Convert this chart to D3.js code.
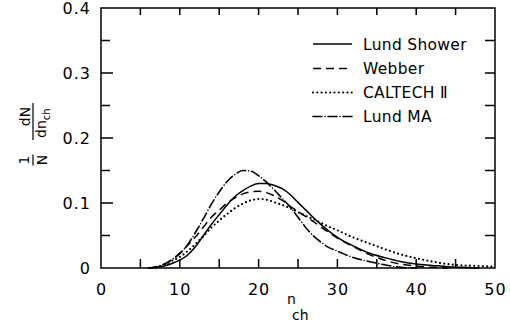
<!DOCTYPE html>
<html>
<head>
<meta charset="utf-8">
<script src="https://cdn.jsdelivr.net/npm/d3@7"></script>
<style>
  html, body { margin: 0; padding: 0; background: #fff; }
  svg { display: block; }
  text { font-family: "DejaVu Sans", "Liberation Sans", sans-serif; fill: #000; }
</style>
</head>
<body>
<svg id="chart" width="510" height="327"></svg>
<script>
// ---- Data ----
const seriesNames = ["Lund Shower", "Webber", "CALTECH \u2161", "Lund MA"];

const lundShowerN = [6, 7, 8, 9, 10, 11, 12, 13, 14, 15, 16, 17, 18, 19, 20, 21, 22, 23, 24, 25, 26, 27, 28, 29, 30, 32, 34, 36, 38, 40, 42, 44, 46, 48];
const lundShowerV = [0, 0.001, 0.003, 0.007, 0.012, 0.020, 0.033, 0.050, 0.067, 0.082, 0.097, 0.110, 0.119, 0.126, 0.130, 0.130, 0.127, 0.122, 0.113, 0.101, 0.089, 0.077, 0.066, 0.056, 0.047, 0.034, 0.023, 0.016, 0.010, 0.006, 0.004, 0.002, 0.001, 0];

const webberN = [6.5, 7, 8, 9, 10, 11, 12, 13, 14, 15, 16, 17, 18, 19, 20, 21, 22, 23, 24, 25, 26, 27, 28, 29, 30, 32, 34, 36, 38, 40, 42, 44];
const webberV = [0, 0.001, 0.005, 0.013, 0.023, 0.035, 0.048, 0.063, 0.078, 0.089, 0.100, 0.108, 0.114, 0.117, 0.118, 0.116, 0.111, 0.104, 0.095, 0.087, 0.079, 0.071, 0.062, 0.054, 0.046, 0.033, 0.021, 0.012, 0.006, 0.003, 0.001, 0];

const caltechN = [6.5, 7, 8, 9, 10, 11, 12, 13, 14, 15, 16, 17, 18, 19, 20, 21, 22, 23, 24, 25, 26, 27, 28, 29, 30, 32, 34, 36, 38, 40, 42, 44, 46, 48, 50];
const caltechV = [0, 0.001, 0.005, 0.011, 0.017, 0.026, 0.037, 0.049, 0.062, 0.073, 0.083, 0.092, 0.099, 0.104, 0.106, 0.105, 0.101, 0.097, 0.092, 0.086, 0.080, 0.075, 0.069, 0.063, 0.058, 0.047, 0.038, 0.029, 0.021, 0.015, 0.010, 0.006, 0.004, 0.003, 0.002];

const lundMAN = [6, 7, 8, 9, 10, 11, 12, 13, 14, 15, 16, 17, 18, 19, 20, 21, 22, 23, 24, 25, 26, 27, 28, 29, 30, 32, 34, 36, 38, 40];
const lundMAV = [0, 0.002, 0.006, 0.013, 0.022, 0.036, 0.055, 0.076, 0.098, 0.117, 0.133, 0.144, 0.150, 0.149, 0.142, 0.132, 0.120, 0.107, 0.094, 0.078, 0.062, 0.049, 0.039, 0.031, 0.026, 0.016, 0.010, 0.005, 0.001, 0];

const xTickValues = [5, 10, 15, 20, 25, 30, 35, 40, 45];
const xLabelValues = [0, 10, 20, 30, 40, 50];
const xTickLabels = ["0", "10", "20", "30", "40", "50"];
const yMajorTicks = [0.1, 0.2, 0.3];
const yLabelValues = [0, 0.1, 0.2, 0.3, 0.4];
const yTickLabels = ["0", "0.1", "0.2", "0.3", "0.4"];
const yMinorTicks = [0.05, 0.15, 0.25, 0.35];

// ---- Layout ----
const svg = d3.select("#chart");
const plotL = 101, plotR = 495, plotT = 8, plotB = 268;

const x = d3.scaleLinear().domain([0, 50]).range([plotL, plotR]);
const y = d3.scaleLinear().domain([0, 0.4]).range([plotB, plotT]);

const tickFont = 16;

// All tick marks as one path, built from the scales
const tp = d3.path();
xTickValues.forEach(d => { tp.moveTo(x(d), plotB); tp.lineTo(x(d), plotB - 9); });
xTickValues.forEach(d => { tp.moveTo(x(d), plotT); tp.lineTo(x(d), plotT + 7); });
yMajorTicks.forEach(d => { tp.moveTo(plotL, y(d)); tp.lineTo(plotL + 12, y(d)); });
yMinorTicks.forEach(d => { tp.moveTo(plotL, y(d)); tp.lineTo(plotL + 9, y(d)); });
yMajorTicks.concat(yMinorTicks).forEach(d => { tp.moveTo(plotR, y(d)); tp.lineTo(plotR - 10, y(d)); });
svg.append("path")
  .attr("d", tp.toString())
  .attr("fill", "none")
  .attr("stroke", "#000")
  .attr("stroke-width", 1.5);

// tick labels
svg.selectAll("text.xl").data(xLabelValues).join("text").attr("class", "xl")
  .attr("x", d => x(d) + 0.5).attr("y", 295)
  .attr("text-anchor", "middle")
  .attr("font-size", tickFont).attr("letter-spacing", "1px")
  .text((d, i) => xTickLabels[i]);
svg.selectAll("text.yl").data(yLabelValues).join("text").attr("class", "yl")
  .attr("x", 91).attr("y", d => y(d) + 5.8)
  .attr("text-anchor", "end")
  .attr("font-size", tickFont).attr("letter-spacing", "1px")
  .text((d, i) => yTickLabels[i]);

// frame
svg.append("rect")
  .attr("x", plotL).attr("y", plotT)
  .attr("width", plotR - plotL).attr("height", plotB - plotT)
  .attr("fill", "none").attr("stroke", "#000").attr("stroke-width", 1.5);

// ---- Curves ----
const styles = [
  { dash: null, width: 1.5, cap: "butt" },
  { dash: "8,5", width: 1.5, cap: "butt" },
  { dash: "0,4.3", width: 2.2, cap: "round" },
  { dash: "9,3,0,3", width: 1.6, cap: "round" }
];
const seriesN = [lundShowerN, webberN, caltechN, lundMAN];
const seriesV = [lundShowerV, webberV, caltechV, lundMAV];

const line = d3.line()
  .x(d => x(d[0]))
  .y(d => y(d[1]))
  .curve(d3.curveMonotoneX);

seriesN.forEach((ns, i) => {
  const pts = ns.map((n, j) => [n, seriesV[i][j]]);
  const p = svg.append("path")
    .datum(pts)
    .attr("d", line)
    .attr("fill", "none")
    .attr("stroke", "#000")
    .attr("stroke-width", styles[i].width)
    .attr("stroke-linecap", styles[i].cap);
  if (styles[i].dash) p.attr("stroke-dasharray", styles[i].dash);
});

// ---- Legend ----
const legendY = [44, 68.5, 92.5, 116.5];
seriesNames.forEach((name, i) => {
  const l = svg.append("line")
    .attr("x1", 313).attr("x2", 352)
    .attr("y1", legendY[i]).attr("y2", legendY[i])
    .attr("stroke", "#000")
    .attr("stroke-width", styles[i].width)
    .attr("stroke-linecap", styles[i].cap);
  if (styles[i].dash) l.attr("stroke-dasharray", styles[i].dash);
  svg.append("text")
    .attr("x", 363).attr("y", legendY[i] + 5.8)
    .attr("font-size", 15.5)
    .attr("letter-spacing", "0.3px")
    .text(name);
});

// ---- Axis titles ----
const xt = svg.append("text").attr("x", 287).attr("y", 303.5).attr("font-size", 14);
xt.append("tspan").text("n");
xt.append("tspan").attr("x", 292).attr("y", 320).attr("font-size", 14).text("ch");

// y title: rotated fractions (1/N)(dN/dn_ch)
function rot(sel, px, py) {
  return sel.attr("transform", `translate(${px},${py}) rotate(-90)`);
}
rot(svg.append("text"), 28.5, 160).attr("text-anchor", "middle").attr("font-size", 14).text("1");
svg.append("line").attr("x1", 33).attr("x2", 33).attr("y1", 154.5).attr("y2", 165.5)
  .attr("stroke", "#000").attr("stroke-width", 1.2);
rot(svg.append("text"), 47, 160).attr("text-anchor", "middle").attr("font-size", 14).text("N");
rot(svg.append("text"), 30, 116.5).attr("text-anchor", "middle").attr("font-size", 14).text("dN");
svg.append("line").attr("x1", 33).attr("x2", 33).attr("y1", 103).attr("y2", 140)
  .attr("stroke", "#000").attr("stroke-width", 1.2);
const den = rot(svg.append("text"), 46, 138).attr("font-size", 14);
den.append("tspan").text("dn");
den.append("tspan").attr("dy", 4).attr("font-size", 10).text("ch");
</script>
</body>
</html>
